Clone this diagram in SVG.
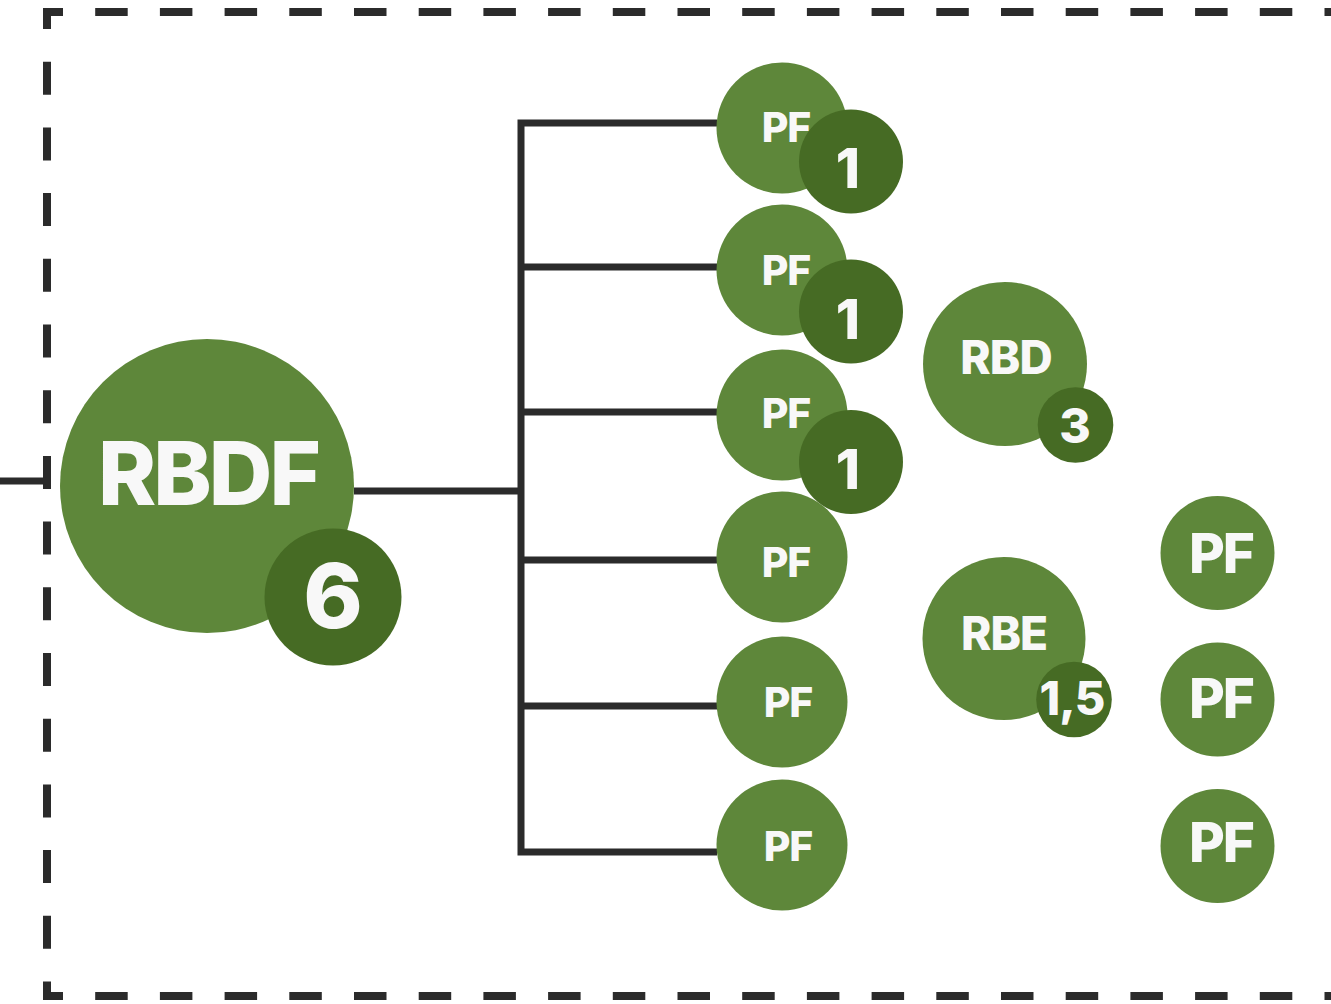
<svg xmlns="http://www.w3.org/2000/svg" width="1331" height="1004" viewBox="0 0 1331 1004">
<style>
.frame{stroke:#2b2b2b;stroke-width:8;fill:none}
.conn{stroke:#2b2b2b;stroke-width:7;fill:none}
.main{fill:#5e873a}
.badge{fill:#466b24}
.t{fill:#f8f8f8;font-family:Inter,"Liberation Sans",sans-serif;font-weight:800;text-anchor:middle}
</style>
<rect width="1331" height="1004" fill="#ffffff"/>
<g id="frame">
<line class="frame" x1="43" y1="12" x2="1340" y2="12" stroke-dasharray="32.5 32.2" stroke-dashoffset="12.5"/>
<line class="frame" x1="43" y1="996" x2="1340" y2="996" stroke-dasharray="32.5 32.2" stroke-dashoffset="12.5"/>
<line class="frame" x1="47" y1="8" x2="47" y2="1000" stroke-dasharray="33 32.7" stroke-dashoffset="12"/>
</g>
<g id="connectors">
<line class="conn" x1="0" y1="481" x2="47" y2="481"/>
<line class="conn" x1="354" y1="491" x2="521" y2="491"/>
<path class="conn" d="M717 123 H521 V852 H717"/>
<line class="conn" x1="521" y1="267" x2="717" y2="267"/>
<line class="conn" x1="521" y1="412" x2="717" y2="412"/>
<line class="conn" x1="521" y1="560" x2="717" y2="560"/>
<line class="conn" x1="521" y1="706" x2="717" y2="706"/>
</g>
<g id="rbdf">
<circle class="main" cx="207" cy="486" r="147"/>
<text class="t" x="208" y="505" font-size="88" letter-spacing="-3">RBDF</text>
<circle class="badge" cx="333" cy="597" r="68.5"/>
<text class="t" x="333" y="628" font-size="90">6</text>
</g>
<g id="pf6">
<circle class="main" cx="782" cy="845" r="65.5"/>
<text class="t" x="788" y="861" font-size="41" letter-spacing="-1">PF</text>
</g>
<g id="pf5">
<circle class="main" cx="782" cy="702" r="65.5"/>
<text class="t" x="788" y="717" font-size="41" letter-spacing="-1">PF</text>
</g>
<g id="pf4">
<circle class="main" cx="782" cy="557" r="65.5"/>
<text class="t" x="786" y="577" font-size="41" letter-spacing="-1">PF</text>
</g>
<g id="pf3">
<circle class="main" cx="782" cy="415" r="65.5"/>
<text class="t" x="786" y="428" font-size="41" letter-spacing="-1">PF</text>
<circle class="badge" cx="851" cy="462" r="52"/>
<text class="t" x="848" y="489" font-size="55">1</text>
</g>
<g id="pf2">
<circle class="main" cx="782" cy="270" r="65.5"/>
<text class="t" x="786" y="285" font-size="41" letter-spacing="-1">PF</text>
<circle class="badge" cx="851" cy="311.5" r="52"/>
<text class="t" x="848" y="338.5" font-size="55">1</text>
</g>
<g id="pf1">
<circle class="main" cx="782" cy="128" r="65.5"/>
<text class="t" x="786" y="142" font-size="41" letter-spacing="-1">PF</text>
<circle class="badge" cx="851" cy="161.5" r="52"/>
<text class="t" x="848" y="188" font-size="55">1</text>
</g>
<g id="rbd">
<circle class="main" cx="1005" cy="364" r="82"/>
<text class="t" x="1006" y="374" font-size="46" letter-spacing="-1">RBD</text>
<circle class="badge" cx="1075.5" cy="425" r="37.8"/>
<text class="t" x="1075" y="443" font-size="48">3</text>
</g>
<g id="rbe">
<circle class="main" cx="1004" cy="638.5" r="81.5"/>
<text class="t" x="1004" y="650" font-size="46" letter-spacing="-1">RBE</text>
<circle class="badge" cx="1074" cy="699.5" r="37.8"/>
<text class="t" x="1072" y="715" font-size="47" letter-spacing="-1">1,5</text>
</g>
<g id="pf7">
<circle class="main" cx="1217.5" cy="553" r="57"/>
<text class="t" x="1221" y="573" font-size="55" letter-spacing="-2">PF</text>
</g>
<g id="pf8">
<circle class="main" cx="1217.5" cy="699.5" r="57"/>
<text class="t" x="1221" y="718" font-size="55" letter-spacing="-2">PF</text>
</g>
<g id="pf9">
<circle class="main" cx="1217.5" cy="846" r="57"/>
<text class="t" x="1221" y="862" font-size="55" letter-spacing="-2">PF</text>
</g>
</svg>
